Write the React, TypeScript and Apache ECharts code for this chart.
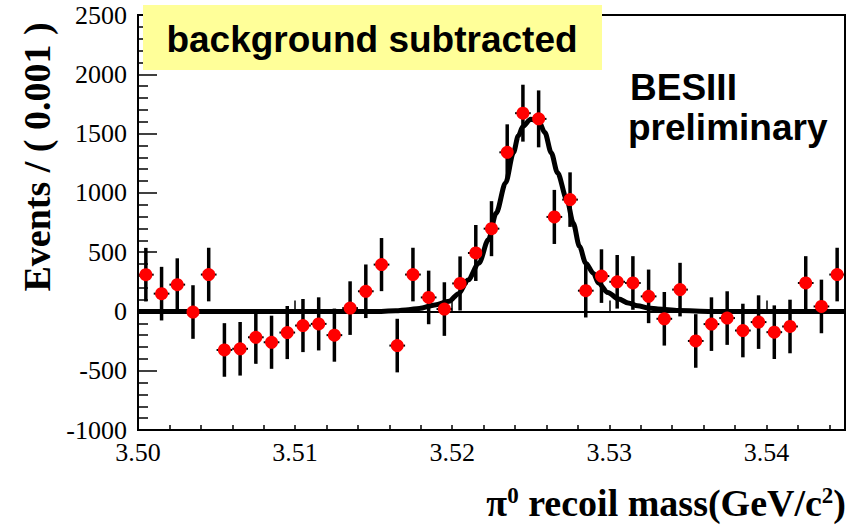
import React, { useEffect, useRef } from "react";
import * as echarts from "echarts";

// bin centres (GeV/c^2), bin width 0.001
const binCenters = [
  3.5005, 3.5015, 3.5025, 3.5035, 3.5045, 3.5055, 3.5065, 3.5075, 3.5085, 3.5095,
  3.5105, 3.5115, 3.5125, 3.5135, 3.5145, 3.5155, 3.5165, 3.5175, 3.5185, 3.5195,
  3.5205, 3.5215, 3.5225, 3.5235, 3.5245, 3.5255, 3.5265, 3.5275, 3.5285, 3.5295,
  3.5305, 3.5315, 3.5325, 3.5335, 3.5345, 3.5355, 3.5365, 3.5375, 3.5385, 3.5395,
  3.5405, 3.5415, 3.5425, 3.5435, 3.5445,
];
const eventCounts = [
  310, 150, 226, -5, 311, -325, -315, -218, -260, -178,
  -119, -105, -200, 28, 170, 395, -288, 311, 118, 20,
  236, 493, 698, 1342, 1672, 1624, 797, 943, 175, 298,
  250, 240, 127, -62, 184, -249, -107, -56, -161, -90,
  -175, -127, 240, 42, 311,
];
const eventErrors = [
  226, 226, 222, 226, 226, 226, 226, 224, 224, 224,
  224, 224, 224, 226, 226, 224, 226, 226, 226, 226,
  228, 236, 232, 236, 240, 240, 228, 230, 226, 226,
  226, 226, 226, 226, 226, 226, 226, 226, 226, 226,
  226, 226, 226, 226, 226,
];
// fitted curve
const fitMass = [
  3.5, 3.515, 3.5164, 3.5172, 3.5179, 3.5189, 3.5198, 3.5204, 3.521, 3.5217,
  3.5223, 3.5228, 3.5234, 3.5239, 3.5242, 3.5245, 3.525, 3.5255, 3.5259, 3.5263,
  3.5267, 3.5273, 3.5277, 3.5281, 3.5285, 3.529, 3.5293, 3.5299, 3.5306, 3.5312,
  3.5318, 3.5325, 3.5331, 3.5344, 3.5365, 3.545,
];
const fitEvents = [
  0, 0, 5, 15, 25, 55, 85, 150, 265, 407,
  604, 830, 1085, 1340, 1480, 1560, 1621, 1607, 1508, 1339,
  1170, 943, 746, 548, 407, 320, 240, 160, 105, 71,
  48, 28, 20, 8, 0, 0,
];

export default function App() {
  const ref = useRef<HTMLDivElement>(null);
  useEffect(() => {
    const chart = echarts.init(ref.current!, null, { renderer: "svg" });
    const serif = "Liberation Serif";
    const sans = "Liberation Sans";
    const black = "#000";
    const tickRich = {
      t: { fontFamily: serif, fontSize: 26, color: black, fontWeight: "normal" },
    };
    chart.setOption({
      animation: false,
      backgroundColor: "#fff",
      textStyle: { fontFamily: serif },
      grid: {
        left: 138,
        right: 5,
        top: 15,
        bottom: 97,
        show: true,
        borderColor: black,
        borderWidth: 2,
      },
      xAxis: [
        {
          type: "value",
          min: 3.5,
          max: 3.545,
          interval: 0.01,
          position: "bottom",
          axisLine: { show: true, lineStyle: { color: black, width: 2 } },
          axisTick: { show: true, inside: true, length: 11, lineStyle: { color: black, width: 1.5 } },
          axisLabel: {
            formatter: (v: number) => `{t|${v.toFixed(2)}}`,
            rich: tickRich,
            color: black,
            fontFamily: serif,
            fontSize: 26,
            margin: 9,
            showMaxLabel: false,
          },
          splitLine: { show: false },
        },
        {
          type: "value",
          min: 3.5,
          max: 3.545,
          interval: 0.002,
          position: "bottom",
          axisLine: { show: false },
          axisTick: { show: true, inside: true, length: 5, lineStyle: { color: black, width: 1.5 } },
          axisLabel: { show: false },
          splitLine: { show: false },
        },
      ],
      yAxis: {
        type: "value",
        min: -1000,
        max: 2500,
        interval: 500,
        axisLine: { show: true, lineStyle: { color: black, width: 2 } },
        axisTick: { show: true, inside: true, length: 19, lineStyle: { color: black, width: 1.5 } },
        minorTick: { show: true, splitNumber: 5, length: 10, lineStyle: { color: black, width: 1.5 } },
        axisLabel: {
          formatter: (v: number) => `{t|${v}}`,
          rich: tickRich,
          color: black,
          fontFamily: serif,
          fontSize: 26,
          margin: 11,
        },
        splitLine: { show: false },
      },
      series: [
        {
          type: "line",
          xAxisIndex: 0,
          data: fitMass.map((x, i) => [x, fitEvents[i]]),
          showSymbol: false,
          smooth: 0.3,
          smoothMonotone: "x",
          lineStyle: { color: black, width: 5, opacity: 1 },
          z: 2,
        },
        {
          type: "custom",
          xAxisIndex: 0,
          data: binCenters.map((x, i) => [x, eventCounts[i], eventErrors[i]]),
          encode: { x: 0, y: 1 },
          renderItem: (_params: any, api: any) => {
            const x = api.value(0);
            const y = api.value(1);
            const e = api.value(2);
            const top = api.coord([x, y + e]);
            const bot = api.coord([x, y - e]);
            const l = api.coord([x - 0.0005, y]);
            const r = api.coord([x + 0.0005, y]);
            return {
              type: "group",
              children: [
                {
                  type: "line",
                  shape: { x1: top[0], y1: top[1], x2: bot[0], y2: bot[1] },
                  style: { stroke: black, lineWidth: 3.5 },
                },
                {
                  type: "line",
                  shape: { x1: l[0], y1: l[1], x2: r[0], y2: r[1] },
                  style: { stroke: black, lineWidth: 2 },
                },
              ],
            };
          },
          z: 3,
        },
        {
          type: "scatter",
          xAxisIndex: 0,
          data: binCenters.map((x, i) => [x, eventCounts[i]]),
          symbol: "circle",
          symbolSize: 13,
          itemStyle: { color: "#ff0000", opacity: 1 },
          z: 4,
        },
      ],
      graphic: [
        {
          type: "rect",
          z: 100,
          shape: { x: 143, y: 5, width: 459, height: 65 },
          style: { fill: "#ffff99" },
        },
        {
          type: "text",
          z: 101,
          x: 372,
          y: 39,
          style: {
            text: "background subtracted",
            font: `bold 37px ${sans}`,
            fill: black,
            align: "center",
            verticalAlign: "middle",
            textAlign: "center",
            textVerticalAlign: "middle",
          },
        },
        {
          type: "text",
          z: 101,
          x: 630,
          y: 87,
          style: {
            text: "BESIII",
            font: `bold 37px ${sans}`,
            fill: black,
            align: "left",
            verticalAlign: "middle",
            textAlign: "left",
            textVerticalAlign: "middle",
          },
        },
        {
          type: "text",
          z: 101,
          x: 628,
          y: 127,
          style: {
            text: "preliminary",
            font: `bold 37px ${sans}`,
            fill: black,
            align: "left",
            verticalAlign: "middle",
            textAlign: "left",
            textVerticalAlign: "middle",
          },
        },
        {
          type: "text",
          z: 101,
          x: 846,
          y: 503,
          style: {
            text: "{a|π}{s|0}{a| recoil mass(GeV/c}{s|2}{a|)}",
            align: "right",
            verticalAlign: "middle",
            textAlign: "right",
            textVerticalAlign: "middle",
            rich: {
              a: { fontFamily: serif, fontWeight: "bold", fontSize: 38, fill: black, color: black },
              s: {
                fontFamily: serif,
                fontWeight: "bold",
                fontSize: 23,
                fill: black,
                color: black,
                verticalAlign: "top",
              },
            },
          },
        },
        {
          type: "text",
          z: 101,
          x: 37,
          y: 157,
          rotation: Math.PI / 2,
          style: {
            text: "Events / ( 0.001 )",
            font: `bold 38px ${serif}`,
            fill: black,
            align: "center",
            verticalAlign: "middle",
            textAlign: "center",
            textVerticalAlign: "middle",
          },
        },
      ],
    });
    return () => chart.dispose();
  }, []);
  return (
    <div
      ref={ref}
      style={{ position: "absolute", left: 0, top: 0, width: 850, height: 527 }}
    />
  );
}
